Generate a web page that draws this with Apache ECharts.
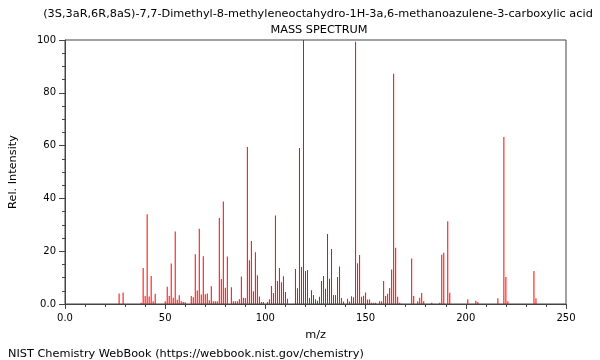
<!DOCTYPE html>
<html>
<head>
<meta charset="utf-8">
<script src="https://cdn.jsdelivr.net/npm/echarts@6/dist/echarts.min.js"></script>
<style>html,body{margin:0;padding:0;background:#fff;}#c{width:600px;height:360px;}</style>
</head>
<body>
<div id="c"></div>
<script>
const chartTitle = '(3S,3aR,6R,8aS)-7,7-Dimethyl-8-methyleneoctahydro-1H-3a,6-methanoazulene-3-carboxylic acid';
const subTitle = 'MASS SPECTRUM';
const footer = 'NIST Chemistry WebBook (https://webbook.nist.gov/chemistry)';
const xName = 'm/z';
const yName = 'Rel. Intensity';

const mz = [27,29,38,39,40,41,42,43,44,45,50,51,52,53,54,55,56,57,58,59,60,63,64,65,66,67,68,69,70,71,72,73,74,75,76,77,78,79,80,81,83,84,85,86,87,88,89,90,91,92,93,94,95,96,97,98,99,101,102,103,104,105,106,107,108,109,110,111,115,116,117,118,119,120,121,122,123,124,125,126,127,128,129,130,131,132,133,134,135,136,137,138,139,141,142,143,144,145,146,147,148,149,150,151,152,153,154,155,157,158,159,160,161,162,163,164,165,166,167,173,174,176,177,178,179,183,187,188,189,191,192,201,205,206,216,219,220,221,234,235];
const intensity = [4.0,4.4,0.5,13.6,3.0,34.0,2.8,10.6,1.0,3.9,1.0,6.5,3.0,15.3,2.4,27.5,1.6,3.3,1.0,0.8,0.7,3.0,2.6,18.8,5.1,28.5,3.6,18.1,3.7,4.0,1.4,6.7,1.0,1.0,1.0,32.6,9.5,38.8,6.2,18.0,6.3,1.0,1.0,1.0,1.8,10.4,2.4,2.3,59.5,16.6,23.9,4.8,19.6,10.9,2.8,0.8,0.8,0.8,1.8,6.8,4.2,33.5,8.7,13.6,8.2,10.5,4.5,2.0,13.3,6.0,59.1,14.0,100,12.5,12.9,2.3,5.2,3.4,1.8,1.2,2.7,8.7,10.6,5.8,26.5,9.6,20.8,3.4,3.4,10.2,14.2,2.3,0.9,2.0,0.9,2.9,2.6,99.3,15.4,18.6,2.7,3.1,4.4,1.7,1.7,0.5,0.5,0.5,1.0,1.0,8.7,3.0,3.9,6.1,13.1,87.2,21.3,2.7,0.5,17.2,3.0,1.0,2.4,4.2,1.0,0.5,0.5,18.7,19.4,31.3,4.3,1.8,1.2,0.8,2.2,63.3,10.2,1.0,12.5,2.2];

const font = 'DejaVu Sans';
const textSize = 11.3;
const tickSize = 10;
const chart = echarts.init(document.getElementById('c'), null, {renderer: 'canvas'});
chart.setOption({
  animation: false,
  backgroundColor: '#fff',
  textStyle: {fontFamily: font},
  title: [
    {text: chartTitle, left: 313, top: 4, textAlign: 'center',
     textStyle: {fontFamily: font, fontSize: textSize, fontWeight: 'normal', color: '#000'}},
    {text: subTitle, left: 314, top: 20, textAlign: 'center',
     textStyle: {fontFamily: font, fontSize: textSize, fontWeight: 'normal', color: '#000'}},
    {text: footer, left: 3, top: 344,
     textStyle: {fontFamily: font, fontSize: textSize, fontWeight: 'normal', color: '#000'}}
  ],
  grid: {left: 62, right: 34, top: 40, bottom: 56, show: true, borderColor: '#444', borderWidth: 1, backgroundColor: 'transparent'},
  xAxis: {
    type: 'value', min: 0, max: 250, interval: 50,
    name: xName, nameLocation: 'middle', nameGap: 26,
    nameTextStyle: {fontFamily: font, fontSize: textSize, color: '#000'},
    axisLine: {show: true, lineStyle: {color: '#444'}},
    axisTick: {show: true, length: 5, lineStyle: {color: '#444'}},
    minorTick: {show: true, splitNumber: 5, length: 3, lineStyle: {color: '#444'}},
    splitLine: {show: false},
    axisLabel: {fontFamily: font, fontSize: tickSize, color: '#000', margin: 9,
      formatter: v => v === 0 ? '0.0' : String(v)}
  },
  yAxis: {
    type: 'value', min: 0, max: 100, interval: 20,
    name: yName, nameLocation: 'middle', nameGap: 46, nameRotate: 90,
    nameTextStyle: {fontFamily: font, fontSize: textSize, color: '#000'},
    axisLine: {show: true, lineStyle: {color: '#444'}},
    axisTick: {show: true, length: 6, lineStyle: {color: '#444'}},
    minorTick: {show: true, splitNumber: 4, length: 3, lineStyle: {color: '#444'}},
    splitLine: {show: false},
    axisLabel: {fontFamily: font, fontSize: tickSize, color: '#000', margin: 9,
      formatter: v => v === 0 ? '0.0' : String(v)}
  },
  series: [{
    type: 'bar',
    data: mz.map((m, i) => [m, intensity[i]]),
    barWidth: 1,
    itemStyle: {color: '#ff0000'},
    emphasis: {disabled: true}
  }]
});
</script>
</body>
</html>
